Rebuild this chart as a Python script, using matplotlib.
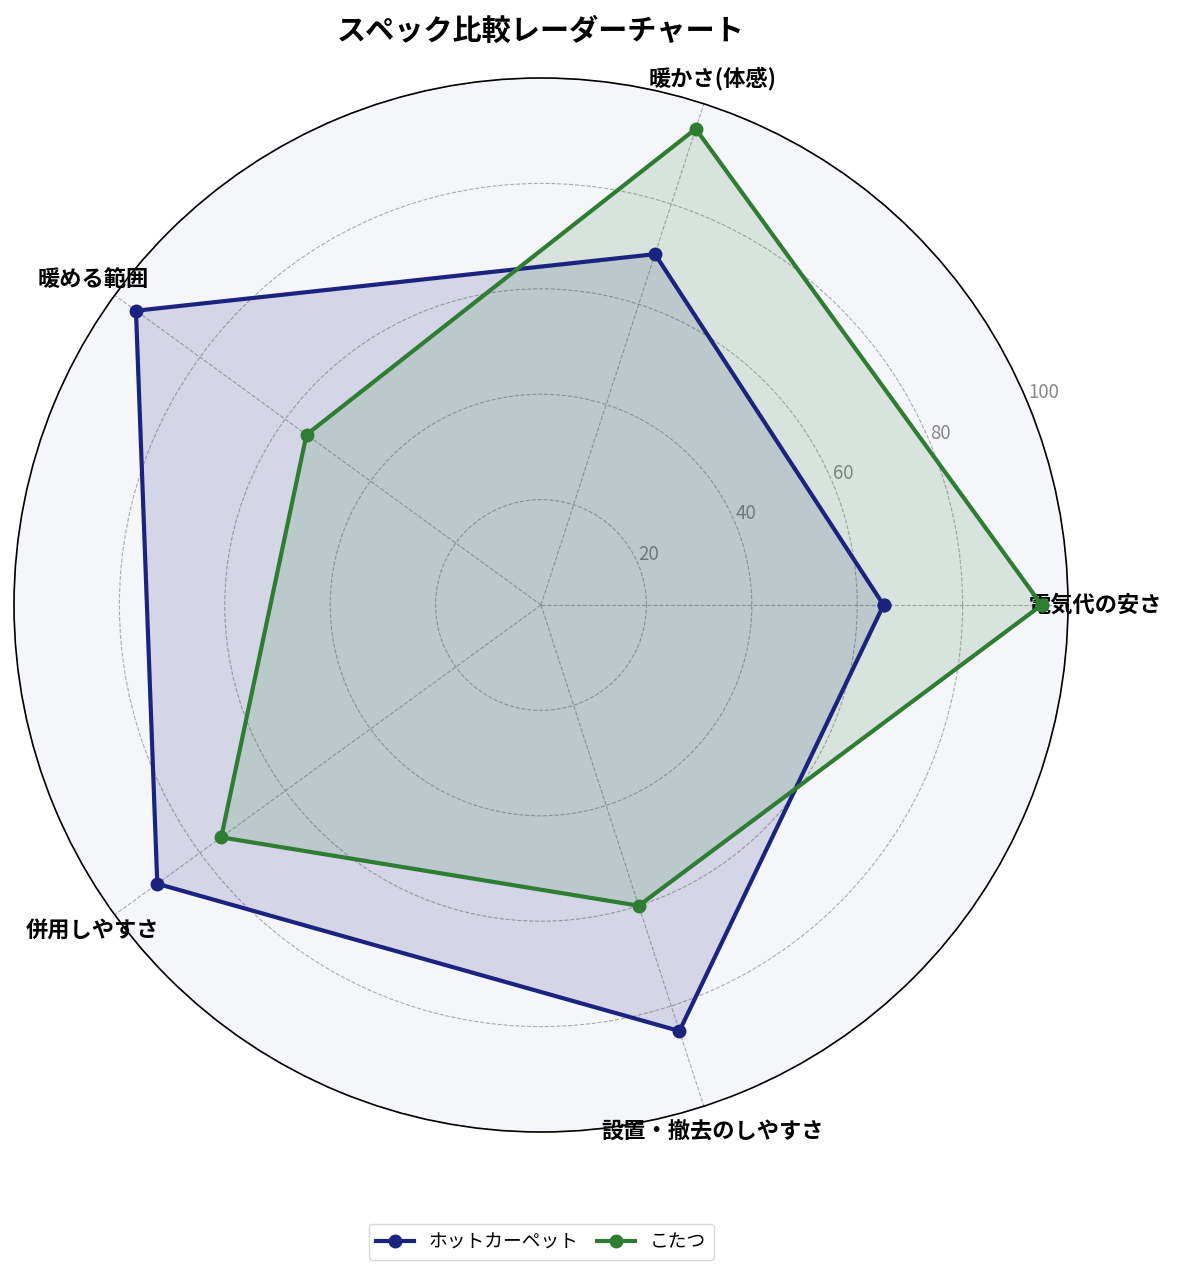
import numpy as np
import matplotlib
matplotlib.use("Agg")
import matplotlib.pyplot as plt

plt.rcParams['font.family'] = ['Noto Sans CJK JP', 'DejaVu Sans']

categories = ['電気代の安さ', '暖かさ(体感)', '暖める範囲', '併用しやすさ', '設置・撤去のしやすさ']
series_names = ['ホットカーペット', 'こたつ']
hot_carpet = [65, 70, 95, 90, 85]
kotatsu = [95, 95, 55, 75, 60]
r_ticks = [20, 40, 60, 80, 100]
r_tick_labels = ['20', '40', '60', '80', '100']
colors = ['#1a237e', '#2e7d32']

n = len(categories)
angles = np.linspace(0, 2 * np.pi, n, endpoint=False).tolist()
angles_closed = angles + angles[:1]

fig = plt.figure(figsize=(11.81, 12.76), dpi=100)
ax = fig.add_axes([14 / 1181, 1 - 1132 / 1276, 1054 / 1181, 1054 / 1276], polar=True)
ax.set_facecolor('#f5f6fa')

for name, vals, c in zip(series_names, [hot_carpet, kotatsu], colors):
    v = list(vals) + list(vals[:1])
    ax.plot(angles_closed, v, color=c, linewidth=3, marker='o', markersize=9, label=name, zorder=3)
    ax.fill(angles_closed, v, color=c, alpha=0.15, zorder=2)

ax.set_ylim(0, 100)
ax.set_yticks(r_ticks)
ax.set_yticklabels(r_tick_labels, color='#888888', fontsize=13.5)
ax.set_rlabel_position(22.5)
ax.set_xticks(angles)
ax.set_xticklabels(categories, fontsize=16, fontweight='bold')
ax.tick_params(axis='x', pad=9)
ax.grid(True, color='#999999', linestyle='--', linewidth=0.8, alpha=0.8)
ax.spines['polar'].set_color('black')
ax.spines['polar'].set_linewidth(1.2)

fig.suptitle('スペック比較レーダーチャート', fontsize=21, fontweight='bold',
             x=541 / 1181, y=0.9875)
ax.legend(loc='lower center', bbox_to_anchor=(527 / 1054, -0.1305), ncol=2,
          fontsize=13.5, frameon=True, columnspacing=1.0)

fig.savefig('out.png', dpi=100)
